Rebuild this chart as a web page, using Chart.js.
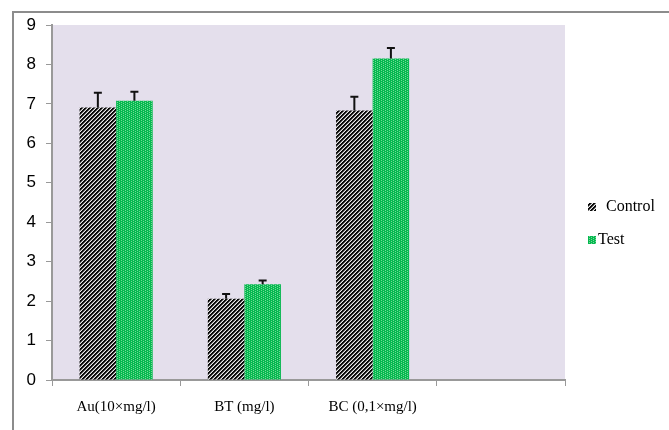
<!DOCTYPE html>
<html>
<head>
<meta charset="utf-8">
<script src="https://cdn.jsdelivr.net/npm/chart.js@4.4.0/dist/chart.umd.min.js"></script>
<style>
  body { margin: 0; background: #fff; }
  #wrap { position: relative; width: 669px; height: 430px; overflow: hidden; }
  #frame { position: absolute; left: 12px; top: 11px; width: 700px; height: 460px; border: 2px solid #8c8c8c; box-sizing: border-box; }
  canvas { position: absolute; left: 0; top: 0; }
</style>
</head>
<body>
<div id="wrap">
  <div id="frame"></div>
  <canvas id="canvas" width="669" height="430"></canvas>
</div>
<script>
const categories = ['Au(10\u00d7mg/l)', 'BT (mg/l)', 'BC (0,1\u00d7mg/l)', ''];
const controlValues = [6.91, 2.06, 6.83, null];
const testValues = [7.08, 2.43, 8.15, null];
const controlErrors = [0.37, 0.12, 0.35, null];
const testErrors = [0.23, 0.09, 0.27, null];
const yTicks = [0, 1, 2, 3, 4, 5, 6, 7, 8, 9];

const ctx = document.getElementById('canvas').getContext('2d');

// hatched black/white stripes
function stripePattern() {
    const n = 4;
    const c = document.createElement('canvas');
    c.width = n; c.height = n;
    const g = c.getContext('2d');
    const img = g.createImageData(n, n);
    for (let y = 0; y < n; y++) {
        for (let x = 0; x < n; x++) {
            const i = (y * n + x) * 4;
            const k = (x + y) % n;
            const v = k < 2 ? 10 : (k == 2 ? 120 : 235);
            img.data[i] = v; img.data[i + 1] = v; img.data[i + 2] = v; img.data[i + 3] = 255;
        }
    }
    g.putImageData(img, 0, 0);
    return ctx.createPattern(c, 'repeat');
}

// green dotted texture
function greenPattern() {
    const c = document.createElement('canvas');
    c.width = 4; c.height = 4;
    const g = c.getContext('2d');
    g.fillStyle = '#06b850';
    g.fillRect(0, 0, 4, 4);
    g.fillStyle = '#72dc96';
    g.fillRect(1, 0, 1, 1);
    g.fillRect(1, 2, 1, 1);
    g.fillRect(3, 1, 1, 1);
    g.fillRect(3, 3, 1, 1);
    return ctx.createPattern(c, 'repeat');
}

const controlFill = stripePattern();
const testFill = greenPattern();

const plotBg = {
    id: 'plotBg',
    beforeDraw(chart) {
        const a = chart.chartArea;
        const c = chart.ctx;
        c.save();
        c.fillStyle = '#e4dfec';
        c.fillRect(a.left, a.top, a.right - a.left, a.bottom - a.top);
        c.restore();
    }
};

const errorBars = {
    id: 'errorBars',
    afterDatasetsDraw(chart) {
        const c = chart.ctx;
        const y = chart.scales.y;
        const errs = [controlErrors, testErrors];
        c.save();
        c.strokeStyle = '#111';
        c.lineWidth = 2;
        chart.data.datasets.forEach((ds, di) => {
            chart.getDatasetMeta(di).data.forEach((bar, i) => {
                if (ds.data[i] == null) return;
                const top = y.getPixelForValue(ds.data[i] + errs[di][i]);
                const base = y.getPixelForValue(ds.data[i]);
                c.beginPath();
                c.moveTo(bar.x, base);
                c.lineTo(bar.x, top);
                c.moveTo(bar.x - 4, top);
                c.lineTo(bar.x + 4, top);
                c.stroke();
            });
        });
        c.restore();
    }
};

const legendBox = {
    id: 'legendBox',
    afterDraw(chart) {
        const c = chart.ctx;
        c.save();
        c.font = '16px "Liberation Serif", "Times New Roman", serif';
        c.textBaseline = 'middle';
        c.fillStyle = controlFill;
        c.fillRect(588, 203, 8, 8);
        c.fillStyle = '#000';
        c.fillText('Control', 606, 207);
        c.fillStyle = testFill;
        c.fillRect(588, 236, 8, 8);
        c.fillStyle = '#000';
        c.fillText('Test', 598, 240);
        c.restore();
    }
};

const myChart = new Chart(ctx, {
    type: 'bar',
    data: {
        labels: categories,
        datasets: [{
            label: 'Control',
            data: controlValues,
            backgroundColor: controlFill,
            borderWidth: 0
        }, {
            label: 'Test',
            data: testValues,
            backgroundColor: testFill,
            borderWidth: 0
        }]
    },
    options: {
        responsive: false,
        animation: false,
        layout: { padding: { top: 25, right: 104, left: 0, bottom: 0 } },
        categoryPercentage: 0.57,
        barPercentage: 1,
        plugins: {
            legend: { display: false },
            tooltip: { enabled: false }
        },
        scales: {
            x: {
                grid: { drawOnChartArea: false, offset: true, tickLength: 6, color: '#999', lineWidth: 1 },
                border: { color: '#999', width: 2 },
                ticks: {
                    color: '#000',
                    padding: 12,
                    font: { family: '"Liberation Serif", "Times New Roman", serif', size: 15 }
                },
                afterFit(scale) { scale.height = 50; }
            },
            y: {
                min: 0,
                max: 9,
                grid: { drawOnChartArea: false, tickLength: 6, color: '#999' },
                border: { color: '#999', width: 2 },
                afterBuildTicks(scale) { scale.ticks = yTicks.map(v => ({ value: v })); },
                ticks: {
                    color: '#000',
                    padding: 10,
                    font: { family: '"Liberation Sans", Arial, sans-serif', size: 17 }
                },
                afterFit(scale) { scale.width = 52; }
            }
        }
    },
    plugins: [plotBg, errorBars, legendBox]
});
</script>
</body>
</html>
